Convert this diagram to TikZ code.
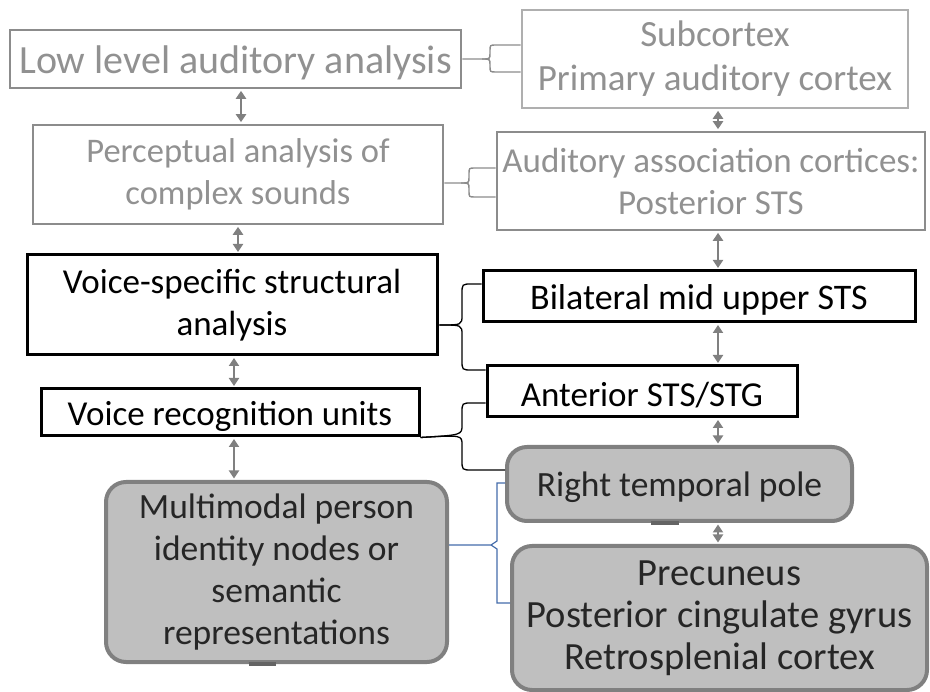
\documentclass[tikz,border=0pt]{standalone}
\usepackage{fontspec}
\setmainfont{Carlito}
\usetikzlibrary{arrows.meta}

\definecolor{paletxt}{RGB}{145,145,145}
\definecolor{paleline}{RGB}{140,140,140}
\definecolor{paleline2}{RGB}{175,175,175}
\definecolor{poolfill}{RGB}{191,191,191}
\definecolor{poolline}{RGB}{128,128,128}
\definecolor{pooltab}{RGB}{100,100,100}
\definecolor{linkblue}{RGB}{68,108,170}

\tikzset{
  x=1pt, y=-1pt,
  % a strut on the first line sets the text a little lower in its box
  boxtext/.style={font=\fontsize{35}{42}\selectfont, align=center, inner sep=0pt,
                  execute at begin node={\rule{0pt}{\dimexpr0.72em+6pt\relax}}},
  fs/.style={font=\fontsize{#1}{42}\selectfont},
  palebox/.style={boxtext, draw=paleline, line width=2.6pt, text=paletxt},
  palebox2/.style={palebox, draw=paleline2},
  darkbox/.style={boxtext, draw=black, line width=3pt, text=black},
  poolbox/.style={boxtext, draw=poolline, fill=poolfill, line width=4pt,
                  rounded corners=20pt, text=black!85},
  dar/.style={draw=poolline, line width=2.6pt,
              {Triangle[length=8pt,width=10pt]}-{Triangle[length=8pt,width=10pt]},
              shorten <=1.5pt, shorten >=1.5pt},
  palebrace/.style={draw=paleline, line width=1.4pt},
  darkbrace/.style={draw=black, line width=1.3pt},
  bluebrace/.style={draw=linkblue, line width=1.2pt},
}

\begin{document}
\begin{tikzpicture}
\useasboundingbox (0,0) rectangle (930,692);

% processing stages (left) and brain regions (right)
\node[palebox, fs=40, minimum width=451, minimum height=58] (low) at (235.5,59)
  {Low level auditory analysis};
\node[palebox2, font=\fontsize{37}{44}\selectfont, minimum width=386, minimum height=98] (sub) at (715,59)
  {Subcortex\\Primary auditory cortex};
\node[palebox, fs=34.5, minimum width=410, minimum height=99] (perc) at (238,174.5)
  {Perceptual analysis of\\complex sounds};
\node[palebox, fs=35, minimum width=428, minimum height=98] (aud) at (711,181)
  {Auditory association cortices:\\Posterior STS};
\node[darkbox, fs=35, minimum width=410, minimum height=100] (voice) at (232,305)
  {Voice-specific structural\\analysis};
\node[darkbox, fs=36, minimum width=432, minimum height=51] (bil) at (699,296.5)
  {Bilateral mid upper STS};
\node[darkbox, fs=35, minimum width=310, minimum height=51] (ant) at (642,391.5)
  {Anterior STS/STG};
\node[darkbox, fs=35, minimum width=378, minimum height=47] (vru) at (230,412.5)
  {Voice recognition units};
\node[poolbox, fs=35.5, minimum width=345, minimum height=74] (rtp) at (679.5,484)
  {Right temporal pole};
\node[poolbox, fs=35.5, minimum width=341, minimum height=180] (mm) at (276.5,572)
  {Multimodal person\\identity nodes or\\semantic\\representations};
\node[poolbox, fs=38.5, minimum width=415, minimum height=144] (prec) at (719.5,618)
  {Precuneus\\Posterior cingulate gyrus\\Retrosplenial cortex};

% small tabs on the lower edges of the rounded boxes
\draw[pooltab, line width=4pt] ([xshift=-29pt]rtp.south) -- ([xshift=-1pt]rtp.south);
\draw[pooltab, line width=4pt] ([xshift=-28pt]mm.south) -- ([xshift=-1pt]mm.south);

% vertical double arrows
\coordinate (c1) at (241,0);
\coordinate (c2) at (718,0);
\coordinate (c3) at (238,0);
\coordinate (c5) at (234,0);
\draw[dar] (low.south -| c1) -- (perc.north -| c1);
\draw[dar] (sub.south -| c2) -- (aud.north -| c2);
\draw[dar] (perc.south -| c3) -- (voice.north -| c3);
\draw[dar] (aud.south -| c2) -- (bil.north -| c2);
\draw[dar] (voice.south -| c5) -- (vru.north -| c5);
\draw[dar] (bil.south -| c2) -- (ant.north -| c2);
\draw[dar] (vru.south -| c5) -- (mm.north -| c5);
\draw[dar] (ant.south -| c2) -- (rtp.north -| c2);
\draw[dar] (rtp.south -| c2) -- (prec.north -| c2);

% braces linking stages to regions
\draw[palebrace] (low.east) -- (482,59) .. controls (490,59) .. (490,53)
  -- (490,51) .. controls (490,45) .. (496,45) -- ([yshift=14pt]sub.west);
\draw[palebrace] (482,59) .. controls (490,59) .. (490,65)
  -- (490,66) .. controls (490,72) .. (496,72) -- ([yshift=-13pt]sub.west);

\draw[palebrace] (perc.east |- 0,183) -- (461,183) .. controls (469,183) .. (469,177)
  -- (469,174) .. controls (469,168) .. (475,168) -- ([yshift=13pt]aud.west);
\draw[palebrace] (461,183) .. controls (469,183) .. (469,189)
  -- (469,191) .. controls (469,197) .. (475,197) -- ([yshift=-16pt]aud.west);

\draw[darkbrace] (voice.east |- 0,325) -- (440,325) .. controls (462,325) .. (462,315)
  -- (462,294) .. controls (462,284) .. (472,284) -- ([yshift=12.5pt]bil.west);
\draw[darkbrace] (440,325) .. controls (462,325) .. (462,335)
  -- (462,360) .. controls (462,370) .. (472,370) -- (ant.west |- 0,370);

\draw[darkbrace] (vru.south east) .. controls (462,435) .. (462,425)
  -- (462,413) .. controls (462,403) .. (472,403) -- (ant.west |- 0,403);
\draw[darkbrace] (vru.south east) .. controls (462,435) .. (462,445)
  -- (462,460) .. controls (462,470) .. (472,470) -- (rtp.west |- 0,470);

\draw[bluebrace] (mm.east |- 0,545) -- (491,545) -- (497,541) -- (497,483)
  -- (rtp.west |- 0,483);
\draw[bluebrace] (491,545) -- (497,549) -- (497,603) -- (prec.west |- 0,603);
\end{tikzpicture}
\end{document}
